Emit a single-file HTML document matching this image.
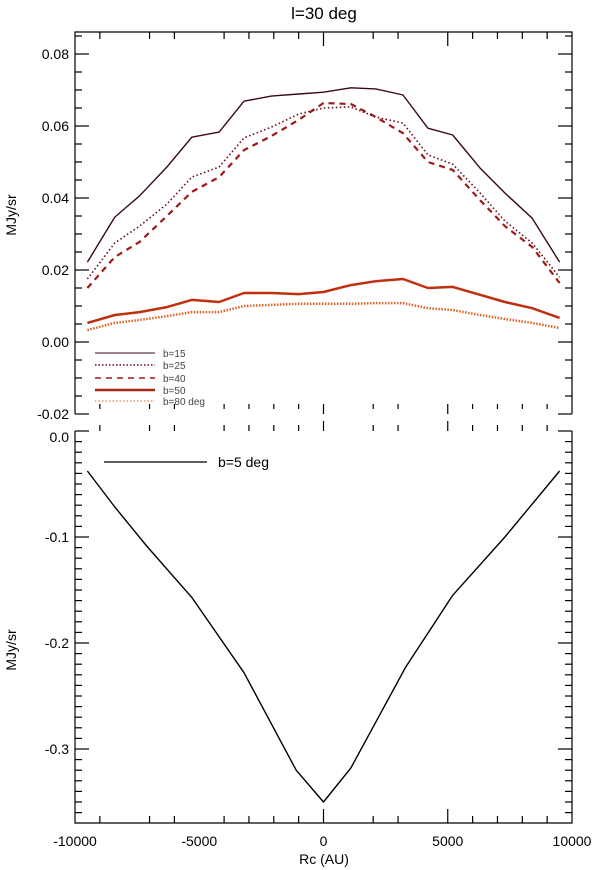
<!DOCTYPE html>
<html><head><meta charset="utf-8"><style>
html,body{margin:0;padding:0;background:#fff}
svg{display:block;font-family:"Liberation Sans",sans-serif}
</style></head><body>
<svg id="chart" width="600" height="870" xmlns="http://www.w3.org/2000/svg">
<text x="324" y="19" font-size="17" text-anchor="middle">l=30 deg</text>
<text transform="translate(16,215) rotate(-90)" font-size="14" text-anchor="middle">MJy/sr</text>
<text transform="translate(16,650) rotate(-90)" font-size="14" text-anchor="middle">MJy/sr</text>
<text x="324" y="864" font-size="14" text-anchor="middle">Rc (AU)</text>
<g id="axes"></g>
<g id="series"></g>
<g id="legend">
<line x1="95" y1="353" x2="155" y2="353" stroke="#3a0a10" stroke-width="1"/>
<text x="163" y="357" font-size="10" fill="#444">b=15</text>
<line x1="95" y1="365" x2="155" y2="365" stroke="#6a0a18" stroke-width="1.5" stroke-dasharray="1.5,2"/>
<text x="163" y="369" font-size="10" fill="#444">b=25</text>
<line x1="95" y1="378" x2="155" y2="378" stroke="#a01818" stroke-width="1.5" stroke-dasharray="6,5"/>
<text x="163" y="382" font-size="10" fill="#444">b=40</text>
<line x1="95" y1="390" x2="155" y2="390" stroke="#a82818" stroke-width="2.5"/>
<text x="163" y="394" font-size="10" fill="#444">b=50</text>
<line x1="95" y1="401" x2="155" y2="401" stroke="#e06020" stroke-width="1" stroke-dasharray="1.5,2"/>
<text x="163" y="405" font-size="10" fill="#444">b=80 deg</text>
<line x1="104" y1="462" x2="207" y2="462" stroke="#000" stroke-width="1.2"/>
<text x="218" y="467" font-size="14">b=5 deg</text>
</g>
</svg>
<script>
const xTop = [-9500,-8400,-7400,-6300,-5300,-4200,-3200,-2100,-1000,0,1100,2100,3200,4200,5200,6300,7300,8400,9500];
const b15 = [0.0222,0.0347,0.0406,0.0486,0.0569,0.0583,0.0669,0.0683,0.0689,0.0694,0.0706,0.0703,0.0686,0.0594,0.0575,0.0483,0.0414,0.0344,0.0222];
const b25 = [0.0175,0.0275,0.0322,0.0383,0.0458,0.0486,0.0567,0.0597,0.0633,0.065,0.0653,0.0625,0.0608,0.052,0.0494,0.0414,0.0336,0.0275,0.018];
const b40 = [0.015,0.0236,0.0278,0.035,0.0417,0.0458,0.0533,0.0572,0.0617,0.0664,0.0661,0.0625,0.058,0.05,0.0478,0.0394,0.0322,0.0264,0.0164];
const b50 = [0.0053,0.0075,0.0083,0.0097,0.0117,0.0111,0.0136,0.0136,0.0133,0.0139,0.0158,0.0169,0.0175,0.015,0.0153,0.0131,0.0111,0.0094,0.0067];
const b80 = [0.0033,0.0053,0.0061,0.0072,0.0083,0.0083,0.01,0.0103,0.0106,0.0106,0.0106,0.0108,0.0108,0.0094,0.0089,0.0075,0.0064,0.0053,0.0039];
const xBot = [-9500,-8400,-7100,-5300,-3200,-1100,0,1100,3300,5200,7300,9500];
const b5 = [-0.0377,-0.0717,-0.109,-0.157,-0.228,-0.320,-0.350,-0.318,-0.223,-0.155,-0.100,-0.0377];
const xTicks = [-10000,-5000,0,5000,10000];
const xTickLabels = ["-10000","-5000","0","5000","10000"];
const xTickMarks = [-9000,-7000,-6000,-4000,-3000,-2000,-1000,0,2000,3000,5000,6000,7000,8000,9000];
const topYTicks = [-0.02,0,0.02,0.04,0.06,0.08];
const topYLabels = ["-0.02","0.00","0.02","0.04","0.06","0.08"];
const botYTicks = [0,-0.1,-0.2,-0.3];
const botYLabels = ["0.0","-0.1","-0.2","-0.3"];

const NS="http://www.w3.org/2000/svg";
const L=75,R=572;
const X=v=>L+(v+10000)/20000*(R-L);
const YT=v=>342-v*3600;
const YB=v=>431-v*1060;
const axes=document.getElementById('axes'), series=document.getElementById('series');
function mk(tag,attrs,parent){const e=document.createElementNS(NS,tag);for(const k in attrs)e.setAttribute(k,attrs[k]);parent.appendChild(e);return e;}
function ln(x1,y1,x2,y2,parent){return mk('line',{x1,y1,x2,y2,stroke:'#000','stroke-width':1.2},parent);}

let f=mk('path',{d:`M${L},414 L${L},32 L${R},32 L${R},414`,fill:'none',stroke:'#000','stroke-width':1.2},axes);


f=mk('path',{d:`M${L},431 L${L},823 L${R},823 L${R},431`,fill:'none',stroke:'#000','stroke-width':1.2},axes);



xTickMarks.forEach(v=>{
  const major=v%5000===0, x=X(v);
  const len=major?14:7;
  ln(x,823,x,823-len,axes); ln(x,32,x,32+len,axes);
  ln(x,404,x,major?414:409,axes); ln(x,major?421:425,x,431,axes);
});
xTicks.forEach((v,i)=>{
  const t=mk('text',{x:X(v),y:846,'font-size':14,'text-anchor':'middle'},axes);
  t.textContent=xTickLabels[i];
  
  
});
for(let k=-4;k<=17;k++){const v=k*0.005,y=YT(v);if(y<32||y>414)continue;const len=k%4===0?14:7;ln(L,y,L+len,y,axes);ln(R,y,R-len,y,axes);}
topYTicks.forEach((v,i)=>{
  const t=mk('text',{x:L-6,y:YT(v)+5,'font-size':14,'text-anchor':'end'},axes);
  t.textContent=topYLabels[i];
  
  
});
for(let k=0;k<=37;k++){const v=-k*0.01,y=YB(v);if(y>823)continue;const len=k%10===0?14:7;ln(L,y,L+len,y,axes);ln(R,y,R-len,y,axes);}
botYTicks.forEach((v,i)=>{
  const y=v===0?YB(v)+11:YB(v)+5;
  const t=mk('text',{x:L-6,y:y,'font-size':14,'text-anchor':'end'},axes);
  t.textContent=botYLabels[i];
  
  
});

function line(xs,ys,Y,style,name){
  const d=xs.map((x,i)=>(i?'L':'M')+X(x).toFixed(1)+','+Y(ys[i]).toFixed(1)).join(' ');
  const p=mk('path',Object.assign({d,fill:'none','stroke-linejoin':'round'},style),series);
  
  
}
line(xTop,b80,YT,{stroke:'#e06020','stroke-width':2.5,'stroke-dasharray':'1.5,1.5'},'line-b80');
line(xTop,b50,YT,{stroke:'#c03010','stroke-width':2.5},'line-b50');
line(xTop,b40,YT,{stroke:'#a01818','stroke-width':2.2,'stroke-dasharray':'6,5'},'line-b40');
line(xTop,b25,YT,{stroke:'#6a0a18','stroke-width':1.6,'stroke-dasharray':'1.5,2.5'},'line-b25');
line(xTop,b15,YT,{stroke:'#3a0a10','stroke-width':1.4},'line-b15');
line(xBot,b5,YB,{stroke:'#000','stroke-width':1.4},'line-b5');
</script>
</body></html>
